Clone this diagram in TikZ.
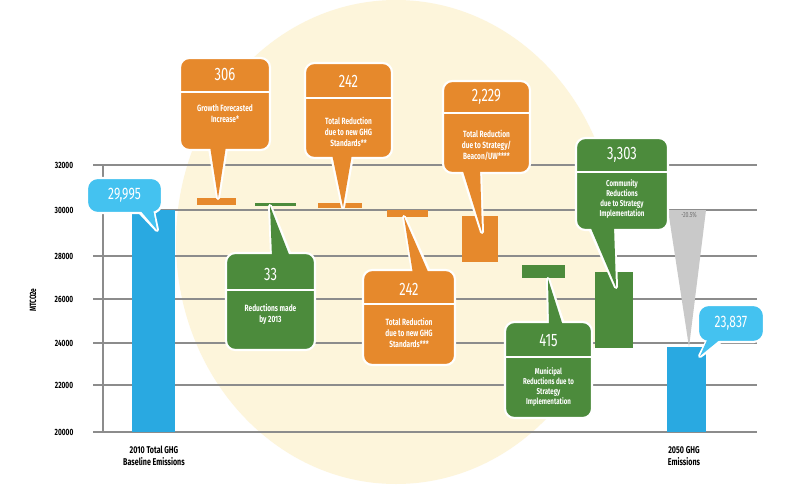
\documentclass[tikz,border=0pt]{standalone}
\usepackage{fontspec}
\setmainfont{Fira Sans}
\newfontfamily\cond[FakeStretch=0.72]{Fira Sans}
\definecolor{cream}{HTML}{FDF5DB}
\definecolor{corange}{HTML}{E6892C}
\definecolor{cgreen}{HTML}{4C8B3C}
\definecolor{cblue}{HTML}{29A9E1}
\definecolor{lblue}{HTML}{44C2F0}
\definecolor{gridc}{HTML}{8C8C8C}
\definecolor{tri}{HTML}{C9C9C9}
\begin{document}
\begin{tikzpicture}[x=0.75pt,y=-0.75pt,
  gridline/.style={gridc, line width=1pt},
  axlabel/.style={font=\cond\bfseries\fontsize{6.8}{7}\selectfont, text=black},
  botlabel/.style={font=\cond\bfseries\fontsize{7.4}{8.6}\selectfont, text=black, align=center},
  halo/.style={draw=white, line width=3pt, line join=round},
  cbox/.style={rectangle, rounded corners=7pt, draw=white, line width=1.6pt, inner sep=0pt},
  numtxt/.style={font=\cond\fontsize{13.5}{14}\selectfont, text=white, inner sep=0pt},
  desc/.style={font=\cond\bfseries\fontsize{6.8}{8.2}\selectfont, text=white, align=center, inner sep=0pt},
  descs/.style={font=\cond\bfseries\fontsize{6.4}{7.4}\selectfont, text=white, align=center, inner sep=0pt},
  divline/.style={white, line width=1pt},
  btxt/.style={font=\cond\fontsize{12.5}{13}\selectfont, text=white, inner sep=0pt}
]
\useasboundingbox (0,0) rectangle (788,496);
\fill[white] (0,0) rectangle (788,496);
% background ellipse
\fill[cream] (396,242) ellipse [x radius=220, y radius=242];

% grid
\foreach \yy/\lab [count=\i] in {165/32000,210/30000,256/28000,299/26000,343/24000,385/22000,432/20000}{
  \draw[gridline] (93,\yy) -- (757,\yy);
  \node[axlabel] (ylab\i) at (64,\yy) {\lab};
}
\coordinate (axtop) at (103,165);
\coordinate (axbot) at (103,432);
\draw[gridline] (axtop) -- (axbot);
\node[axlabel, rotate=90] (yaxis) at (33,300) {MTCO2e};

% bars
\fill[cblue] (132,210) rectangle (175,432);
\fill[cblue] (667,347) rectangle (706,432);
\fill[corange] (197,198) rectangle (236,205);
\fill[cgreen] (255,203) rectangle (296,206);
\fill[corange] (318,203) rectangle (362,208);
\fill[corange] (387,210) rectangle (428,217);
\fill[corange] (462,216) rectangle (498,262);
\fill[cgreen] (522,265) rectangle (565,278);
\fill[cgreen] (595,272) rectangle (633,348);

% grey reduction triangle
\coordinate (tA) at (668,210);
\coordinate (tB) at (706,210);
\coordinate (tC) at (689,347);
\fill[tri] (tA) -- (tB) -- (tC) -- cycle;
\node[font=\cond\fontsize{5.5}{6}\selectfont, text=gridc!80!black, inner sep=0pt] (pct) at (689,215) {-20.5\%};

% ---- callouts ----
% 306
\coordinate (p306) at (218,198);
\path[halo, fill=corange] (210,148) -- (p306) -- (226,148) -- cycle;
\node[cbox, fill=corange, minimum width=90*0.75pt, minimum height=92*0.75pt] (c306) at (225,104) {};
\fill[corange] (210,146) -- (p306) -- (226,146) -- cycle;
\node[numtxt] (n306) at (225,74) {306};
\draw[divline] (c306.west |- 0,92) -- (c306.east |- 0,92);
\node[desc] (d306) at (225,114) {Growth Forecasted\\Increase*};

% 242 a
\coordinate (p242a) at (343,207);
\path[halo, fill=corange] (332,156) -- (p242a) -- (352,156) -- cycle;
\node[cbox, fill=corange, minimum width=87*0.75pt, minimum height=95*0.75pt] (c242a) at (348.5,110.5) {};
\fill[corange] (332,154) -- (p242a) -- (352,154) -- cycle;
\node[numtxt] (n242a) at (348.5,81) {242};
\draw[divline] (c242a.west |- 0,98) -- (c242a.east |- 0,98);
\node[desc] (d242a) at (348.5,132) {Total Reduction\\due to new GHG\\Standards**};

% 2229
\coordinate (p2229) at (482,232);
\path[halo, fill=corange] (462,170) -- (p2229) -- (480,170) -- cycle;
\node[cbox, fill=corange, minimum width=87*0.75pt, minimum height=92*0.75pt] (c2229) at (486.5,127) {};
\fill[corange] (462,168) -- (p2229) -- (480,168) -- cycle;
\node[numtxt] (n2229) at (486.5,97) {2,229};
\draw[divline] (c2229.west |- 0,113) -- (c2229.east |- 0,113);
\node[desc] (d2229) at (486.5,145) {Total Reduction\\due to Strategy/\\Beacon/UW****};

% 3303
\coordinate (p3303) at (616,287);
\path[halo, fill=cgreen] (590,228) -- (p3303) -- (614,228) -- cycle;
\node[cbox, fill=cgreen, minimum width=92*0.75pt, minimum height=92*0.75pt] (c3303) at (622,184) {};
\fill[cgreen] (590,226) -- (p3303) -- (614,226) -- cycle;
\node[numtxt] (n3303) at (622,155) {3,303};
\draw[divline] (c3303.west |- 0,172) -- (c3303.east |- 0,172);
\node[descs] (d3303) at (622,199) {Community\\Reductions\\due to Strategy\\Implementation};

% 33
\coordinate (p33) at (270,206);
\path[halo, fill=cgreen] (272,255) -- (p33) -- (290,255) -- cycle;
\node[cbox, fill=cgreen, minimum width=89*0.75pt, minimum height=97*0.75pt] (c33) at (270.5,301.5) {};
\fill[cgreen] (272,257) -- (p33) -- (290,257) -- cycle;
\node[numtxt] (n33) at (270.5,274) {33};
\draw[divline] (c33.west |- 0,290) -- (c33.east |- 0,290);
\node[desc] (d33) at (270.5,314) {Reductions made\\by 2013};

% 242 b
\coordinate (p242b) at (404,217);
\path[halo, fill=corange] (413,272) -- (p242b) -- (429,272) -- cycle;
\node[cbox, fill=corange, minimum width=92*0.75pt, minimum height=95*0.75pt] (c242b) at (409,317.5) {};
\fill[corange] (413,274) -- (p242b) -- (429,274) -- cycle;
\node[numtxt] (n242b) at (409,289) {242};
\draw[divline] (c242b.west |- 0,304) -- (c242b.east |- 0,304);
\node[desc] (d242b) at (409,333) {Total Reduction\\due to new GHG\\Standards***};

% 415
\coordinate (p415) at (548,279);
\path[halo, fill=cgreen] (549,324) -- (p415) -- (563,324) -- cycle;
\node[cbox, fill=cgreen, minimum width=87*0.75pt, minimum height=96*0.75pt] (c415) at (548.5,370) {};
\fill[cgreen] (549,326) -- (p415) -- (563,326) -- cycle;
\node[numtxt] (n415) at (548.5,340) {415};
\draw[divline] (c415.west |- 0,357) -- (c415.east |- 0,357);
\node[descs] (d415) at (548.5,387) {Municipal\\Reductions due to\\Strategy\\Implementation};

% blue callouts
\coordinate (pb1) at (157,230);
\path[halo, fill=lblue] (139,211) -- (pb1) -- (153,211) -- cycle;
\node[cbox, fill=lblue, rounded corners=8pt, minimum width=75*0.75pt, minimum height=35*0.75pt] (cb1) at (124.5,195.5) {};
\fill[lblue] (139,209) -- (pb1) -- (153,209) -- cycle;
\node[btxt] (nb1) at (cb1) {29,995};

\coordinate (pb2) at (700,356);
\path[halo, fill=lblue] (708,340) -- (pb2) -- (722,340) -- cycle;
\node[cbox, fill=lblue, rounded corners=8pt, minimum width=66*0.75pt, minimum height=37*0.75pt] (cb2) at (731,323.5) {};
\fill[lblue] (708,338) -- (pb2) -- (722,338) -- cycle;
\node[btxt] (nb2) at (cb2) {23,837};

% bottom labels
\node[botlabel] (xl1) at (154,456) {2010 Total GHG\\Baseline Emissions};
\node[botlabel] (xl2) at (684,456) {2050 GHG\\Emissions};
\end{tikzpicture}
\end{document}
